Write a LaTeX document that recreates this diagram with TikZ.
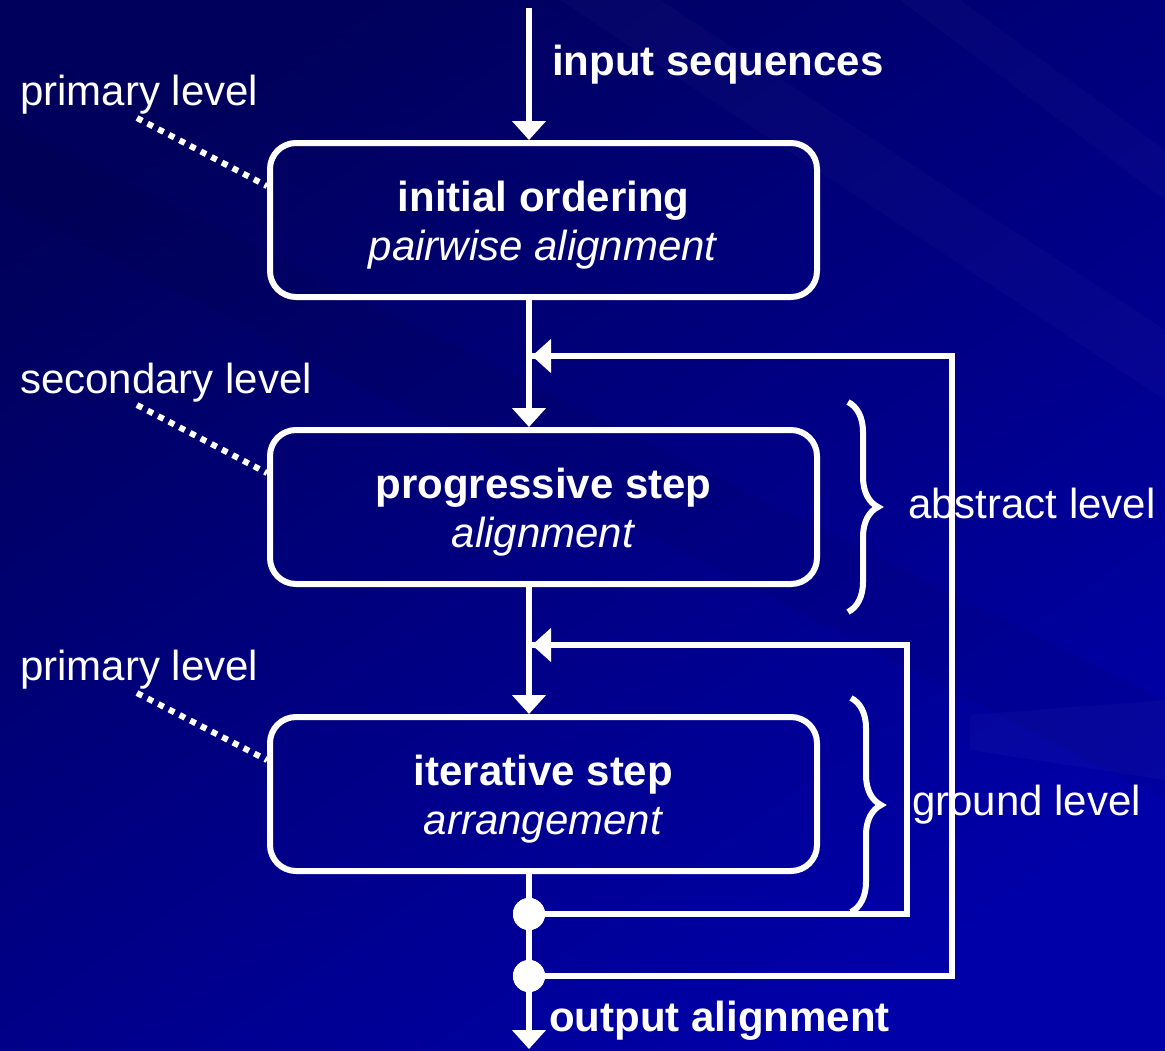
\documentclass[tikz,border=0pt]{standalone}
\usepackage{fontspec}
\setmainfont{Liberation Sans}
\usetikzlibrary{arrows.meta,decorations.pathreplacing,calc}
\definecolor{bgA}{RGB}{0,0,92}
\definecolor{bgB}{RGB}{0,0,168}
\newcommand{\boxstrut}{\rule{0pt}{40pt}}
\begin{document}
\begin{tikzpicture}[x=1pt,y=-1pt,
 wire/.style={white,line width=6pt},
 tip/.style={-{Triangle[width=33pt,length=19pt]}},
 box/.style={draw=white,line width=6pt,rounded corners=26pt,minimum width=547pt,minimum height=154pt,inner sep=0pt,text=white,align=center,font=\fontsize{42}{49}\selectfont},
 lbl/.style={text=white,font=\fontsize{42}{50}\selectfont,inner sep=0pt},
 dotline/.style={white,line width=6pt,dash pattern=on 6pt off 6pt},
 dot/.style={circle,fill=white,minimum size=32pt,inner sep=0pt},
 brc/.style={white,line width=6pt,decorate,decoration={brace,amplitude=30pt}}]
% background
\shade[top color=bgA,bottom color=bgB,shading angle=35] (0,0) rectangle (1165,1050);
\fill[white,opacity=0.02] (560,0) -- (660,0) -- (1165,330) -- (1165,400) -- cycle;
\fill[white,opacity=0.02] (900,0) -- (960,0) -- (1165,150) -- (1165,200) -- cycle;
\fill[black,opacity=0.05] (0,120) -- (0,200) -- (1165,800) -- (1165,700) -- cycle;
\fill[white,opacity=0.025] (970,715) -- (1165,700) -- (1165,780) -- (970,750) -- cycle;
\useasboundingbox (0,0) rectangle (1165,1050);

% boxes
\node[box] (b1) at (543.5,220) {\boxstrut\textbf{initial ordering}\\\textit{pairwise alignment}};
\node[box] (b2) at (543.5,507) {\boxstrut\textbf{progressive step}\\\textit{alignment}};
\node[box] (b3) at (543.5,794) {\boxstrut\textbf{iterative step}\\\textit{arrangement}};

% main line
\coordinate (in) at (529,8);
\coordinate (out) at (529,1049);
\coordinate (r1) at (952,356);
\coordinate (m1) at (532,356);
\coordinate (r2) at (907,645);
\coordinate (m2) at (532,645);
\node[dot] (d1) at (529,914) {};
\node[dot] (d2) at (529,976) {};

\draw[wire] (d1.center) -| (r2) -- (m2);
\draw[wire] (d2.center) -| (r1) -- (m1);
\draw[wire,tip] (r2) -- (m2);
\draw[wire,tip] (r1) -- (m1);

\draw[wire,tip] (in) -- (in |- b1.north);
\draw[wire,tip] (in |- b1.south) -- (in |- b2.north);
\draw[wire,tip] (in |- b2.south) -- (in |- b3.north);
\draw[wire] (in |- b3.south) -- (d1.center);
\draw[wire] (d1.center) -- (d2.center);
\draw[wire,tip] (d2.center) -- (out);
\node[dot] at (d1) {};
\node[dot] at (d2) {};

% braces
\draw[brc] (848,402) -- (848,612);
\draw[brc] (851,698) -- (851,912);
\node[lbl,anchor=base west] (abs) at (908,518) {abstract level};
\node[lbl,anchor=base west] (gnd) at (912,815) {ground level};

% left labels
\node[lbl,anchor=base west] (p1) at (20,105) {primary level};
\node[lbl,anchor=base west] (s2) at (20,393) {secondary level};
\node[lbl,anchor=base west] (p3) at (20,680) {primary level};
\coordinate (q1) at (137,118);
\coordinate (q2) at (137,405);
\coordinate (q3) at (137,693);
\draw[dotline] (q1) -- (b1.173);
\draw[dotline] (q2) -- (b2.173);
\draw[dotline] (q3) -- (b3.173);

% top and bottom labels
\node[lbl,anchor=base west] (insq) at (552,75) {\textbf{input sequences}};
\node[lbl,anchor=base west] (outal) at (549,1031) {\textbf{output alignment}};
\end{tikzpicture}
\end{document}
